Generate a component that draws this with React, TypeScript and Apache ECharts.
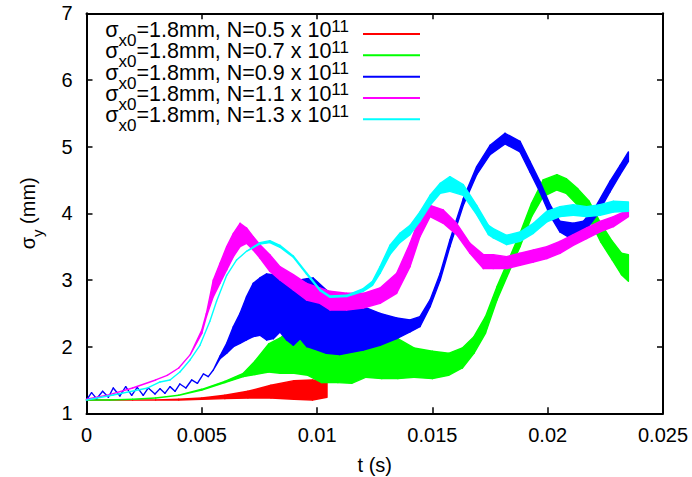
import React, { useEffect, useRef } from "react";
import * as echarts from "echarts";

// ---- axis ticks ----
const xTickLabels = ["0", "0.005", "0.01", "0.015", "0.02", "0.025"];
const yTickLabels = ["1", "2", "3", "4", "5", "6", "7"];

// ---- legend ----
const seriesColors = ["#ff0000", "#00ff00", "#0000ff", "#ff00ff", "#00ffff"];
const nValues = ["0.5", "0.7", "0.9", "1.1", "1.3"];
const seriesNames = nValues.map((n) => `σx0=1.8mm, N=${n} x 10^11`);

// ---- data: time (s), lower / upper envelope of sigma_y (mm) ----
const redT = [0, 0.001, 0.002, 0.003, 0.004, 0.005, 0.006, 0.007, 0.008, 0.009, 0.0098, 0.01043];
const redLo = [1.2, 1.2, 1.2, 1.2, 1.2, 1.21, 1.22, 1.23, 1.23, 1.21, 1.2, 1.24];
const redHi = [1.2, 1.2, 1.2, 1.2, 1.21, 1.23, 1.27, 1.33, 1.42, 1.49, 1.5, 1.48];

const greenT = [0, 0.001, 0.002, 0.003, 0.004, 0.005, 0.006, 0.0068, 0.0073, 0.0079, 0.0084, 0.009, 0.0096, 0.0102, 0.0109, 0.0115, 0.0121, 0.0128, 0.0135, 0.0142, 0.015, 0.0157, 0.0163, 0.0168, 0.0173, 0.0178, 0.0183, 0.0188, 0.0193, 0.0198, 0.0204, 0.0208, 0.0213, 0.0218, 0.0223, 0.0228, 0.0232, 0.0235];
const greenLo = [1.2, 1.2, 1.21, 1.23, 1.27, 1.35, 1.46, 1.55, 1.58, 1.62, 1.6, 1.6, 1.57, 1.46, 1.46, 1.45, 1.54, 1.52, 1.52, 1.54, 1.52, 1.57, 1.68, 1.9, 2.2, 2.7, 3.1, 3.5, 3.95, 4.25, 4.35, 4.3, 4.12, 3.92, 3.57, 3.3, 3.08, 2.98];
const greenHi = [1.2, 1.2, 1.21, 1.23, 1.27, 1.36, 1.48, 1.6, 1.78, 2.04, 2.13, 2.31, 2.24, 2.19, 2.09, 2.05, 2.09, 2.09, 2.12, 1.98, 1.93, 1.9, 1.98, 2.15, 2.45, 2.9, 3.3, 3.7, 4.15, 4.5, 4.58, 4.52, 4.37, 4.18, 3.85, 3.58, 3.4, 3.38];

const blueT = [0, 0.00022, 0.00044, 0.0007, 0.00095, 0.00116, 0.00145, 0.0017, 0.00196, 0.0022, 0.00246, 0.00268, 0.00297, 0.00319, 0.0034, 0.00362, 0.00384, 0.00405, 0.00431, 0.00456, 0.00481, 0.00507, 0.00528, 0.0055, 0.00579, 0.00608, 0.00637, 0.00666, 0.00694, 0.00723, 0.00752, 0.00781, 0.0081, 0.00839, 0.00868, 0.00897, 0.00926, 0.00955, 0.00983, 0.0104, 0.01098, 0.012, 0.01273, 0.01345, 0.01403, 0.01446, 0.0149, 0.01534, 0.01576, 0.01634, 0.01692, 0.0175, 0.01815, 0.0188, 0.01923, 0.01966, 0.0201, 0.02053, 0.02111, 0.02155, 0.02213, 0.0227, 0.02314, 0.0235];
const blueLo = [1.2, 1.31, 1.22, 1.33, 1.24, 1.38, 1.26, 1.4, 1.27, 1.39, 1.27, 1.38, 1.29, 1.37, 1.3, 1.4, 1.33, 1.44, 1.38, 1.5, 1.45, 1.59, 1.55, 1.65, 1.82, 1.9, 2.0, 2.05, 2.1, 2.15, 2.17, 2.1, 2.12, 2.22, 2.1, 2.02, 2.12, 2.0, 1.97, 1.9, 1.88, 1.95, 2.02, 2.12, 2.22, 2.3, 2.6, 3.0, 3.5, 4.12, 4.58, 4.88, 5.04, 4.92, 4.62, 4.32, 3.97, 3.72, 3.6, 3.7, 3.97, 4.32, 4.58, 4.78];
const blueHi = [1.2, 1.31, 1.22, 1.33, 1.24, 1.38, 1.26, 1.4, 1.27, 1.39, 1.27, 1.38, 1.29, 1.37, 1.3, 1.4, 1.33, 1.44, 1.38, 1.5, 1.45, 1.59, 1.55, 1.65, 1.86, 2.05, 2.3, 2.5, 2.75, 2.95, 3.03, 3.09, 3.08, 3.0, 2.95, 2.95, 3.0, 3.02, 3.03, 2.85, 2.7, 2.6, 2.5, 2.43, 2.4, 2.45, 2.7, 3.1, 3.6, 4.22, 4.7, 5.02, 5.2, 5.08, 4.78, 4.48, 4.13, 3.88, 3.85, 3.88, 4.13, 4.48, 4.72, 4.92];

const magentaT = [0, 0.001, 0.002, 0.003, 0.0035, 0.004, 0.0045, 0.005, 0.0052, 0.0055, 0.00579, 0.00608, 0.00637, 0.00666, 0.00694, 0.00723, 0.00752, 0.00795, 0.00839, 0.00897, 0.00954, 0.01012, 0.01056, 0.01128, 0.012, 0.01273, 0.01345, 0.01403, 0.01446, 0.0149, 0.01547, 0.01605, 0.01663, 0.01721, 0.01764, 0.01822, 0.0188, 0.01938, 0.01996, 0.02053, 0.02111, 0.02169, 0.02227, 0.02285, 0.0235];
const magentaLo = [1.21, 1.28, 1.38, 1.5, 1.57, 1.68, 1.88, 2.2, 2.45, 2.75, 2.95, 3.15, 3.35, 3.5, 3.55, 3.45, 3.33, 3.13, 3.0, 2.85, 2.7, 2.65, 2.55, 2.55, 2.58, 2.65, 2.8, 3.2, 3.65, 3.95, 3.85, 3.68, 3.4, 3.17, 3.17, 3.17, 3.22, 3.27, 3.32, 3.4, 3.52, 3.62, 3.72, 3.8, 3.95];
const magentaHi = [1.21, 1.28, 1.38, 1.5, 1.57, 1.68, 1.88, 2.25, 2.5, 3.0, 3.25, 3.5, 3.7, 3.85, 3.78, 3.65, 3.53, 3.38, 3.2, 3.08, 2.95, 2.88, 2.83, 2.8, 2.8, 2.88, 3.1, 3.55, 3.95, 4.12, 4.05, 3.85, 3.55, 3.38, 3.38, 3.35, 3.4, 3.45, 3.5, 3.58, 3.68, 3.78, 3.88, 3.95, 4.05];

const cyanT = [0, 0.00116, 0.00261, 0.00319, 0.00362, 0.00405, 0.00449, 0.00492, 0.00535, 0.00564, 0.00608, 0.00651, 0.00694, 0.00752, 0.00795, 0.00839, 0.00897, 0.00954, 0.01012, 0.01056, 0.01128, 0.012, 0.0124, 0.01273, 0.01316, 0.01359, 0.01403, 0.01446, 0.0149, 0.01534, 0.01576, 0.01634, 0.01692, 0.01743, 0.01764, 0.01822, 0.0188, 0.01938, 0.01996, 0.02053, 0.02111, 0.02169, 0.02227, 0.02285, 0.0235];
const cyanLo = [1.2, 1.275, 1.375, 1.47, 1.5, 1.62, 1.8, 2.02, 2.38, 2.68, 3.07, 3.3, 3.43, 3.54, 3.56, 3.49, 3.34, 3.09, 2.84, 2.74, 2.75, 2.83, 2.92, 3.1, 3.38, 3.56, 3.68, 3.88, 4.12, 4.3, 4.33, 4.27, 3.98, 3.68, 3.63, 3.53, 3.58, 3.7, 3.87, 3.95, 3.97, 3.95, 3.97, 4.02, 4.03];
const cyanHi = [1.2, 1.275, 1.375, 1.47, 1.5, 1.62, 1.8, 2.02, 2.38, 2.68, 3.07, 3.3, 3.43, 3.56, 3.59, 3.52, 3.36, 3.11, 2.86, 2.76, 2.77, 2.87, 2.98, 3.2, 3.52, 3.7, 3.82, 4.02, 4.27, 4.45, 4.55, 4.43, 4.12, 3.82, 3.77, 3.67, 3.72, 3.85, 4.03, 4.1, 4.13, 4.1, 4.13, 4.18, 4.17];

const FONT = "Liberation Sans, Arial, Helvetica, sans-serif";

const bands = [
  { t: redT, lo: redLo, hi: redHi },
  { t: greenT, lo: greenLo, hi: greenHi },
  { t: blueT, lo: blueLo, hi: blueHi },
  { t: magentaT, lo: magentaLo, hi: magentaHi },
  { t: cyanT, lo: cyanLo, hi: cyanHi },
];

// each data item is one segment: [t_i, lo_i, hi_i, t_i+1, lo_i+1, hi_i+1]
function buildSeries() {
  return bands.map((b, k) => {
    const color = seriesColors[k];
    const n = Math.min(b.t.length, b.lo.length, b.hi.length);
    const segs: number[][] = [];
    for (let i = 0; i < n - 1; i++) {
      segs.push([b.t[i], b.lo[i], b.hi[i], b.t[i + 1], b.lo[i + 1], b.hi[i + 1]]);
    }
    return {
      name: seriesNames[k],
      type: "custom",
      color,
      itemStyle: { color },
      silent: true,
      emphasis: { disabled: true },
      dimensions: ["t0", "lo0", "hi0", "t1", "lo1", "hi1"],
      encode: { x: [0, 3], y: [1, 2, 4, 5] },
      data: segs,
      renderItem: (_params: any, api: any) => {
        const lo0 = api.coord([api.value(0), api.value(1)]);
        const hi0 = api.coord([api.value(0), api.value(2)]);
        const lo1 = api.coord([api.value(3), api.value(4)]);
        const hi1 = api.coord([api.value(3), api.value(5)]);
        return {
          type: "polygon",
          shape: { points: [hi0, hi1, lo1, lo0] },
          style: { fill: color, stroke: color, lineWidth: 1.4, lineJoin: "round" },
          silent: true,
        };
      },
    };
  });
}

// key (legend box) drawn as text + sample line for each series
const legendRich = {
  m: { fontSize: 21.5, lineHeight: 21, verticalAlign: "middle", fontFamily: FONT, fill: "#000" },
  s: { fontSize: 17, lineHeight: 1, verticalAlign: "middle", padding: [21, 0, 0, 0], fontFamily: FONT, fill: "#000" },
  p: { fontSize: 17, lineHeight: 1, verticalAlign: "middle", padding: [0, 0, 8, 0], fontFamily: FONT, fill: "#000" },
};
function buildKey() {
  const els: any[] = [];
  nValues.forEach((n, i) => {
    const rowY = 34 + i * 21.33;
    els.push({
      type: "text",
      x: 349,
      y: rowY - 4,
      silent: true,
      style: {
        text: `{m|σ}{s|x0}{m|=1.8mm, N=${n} x 10}{p|11}`,
        rich: legendRich,
        align: "right",
        verticalAlign: "middle",
        fill: "#000",
        font: `21.5px ${FONT}`,
      },
    });
    els.push({
      type: "line",
      silent: true,
      shape: { x1: 363, y1: rowY, x2: 420, y2: rowY },
      style: { stroke: seriesColors[i], lineWidth: 2 },
    });
  });
  return els;
}

const axisLineStyle = { color: "#000", width: 2 };
const tickStyle = { color: "#000", width: 1.5 };

const option: any = {
  animation: false,
  backgroundColor: "#fff",
  grid: { left: 86.5, right: 29, top: 13.3, bottom: 63.7, outerBoundsMode: "none" },
  graphic: buildKey(),
  xAxis: [
    {
      type: "value",
      position: "bottom",
      min: 0,
      max: 0.025,
      interval: 0.005,
      name: "t (s)",
      nameLocation: "middle",
      nameGap: 42,
      nameTextStyle: { color: "#000", fontSize: 20, fontFamily: FONT },
      axisLine: { show: true, onZero: false, lineStyle: axisLineStyle },
      axisTick: { show: true, inside: true, length: 6, lineStyle: tickStyle },
      axisLabel: {
        color: "#000",
        fontSize: 20,
        fontFamily: FONT,
        margin: 12,
        formatter: (v: number) => xTickLabels[Math.round(v / 0.005)] ?? "",
      },
      splitLine: { show: false },
    },
    {
      type: "value",
      position: "top",
      min: 0,
      max: 0.025,
      interval: 0.005,
      axisLine: { show: true, onZero: false, lineStyle: axisLineStyle },
      axisTick: { show: true, inside: true, length: 6, lineStyle: tickStyle },
      axisLabel: { show: false },
      splitLine: { show: false },
    },
  ],
  yAxis: [
    {
      type: "value",
      position: "left",
      min: 1,
      max: 7,
      interval: 1,
      name: "{m|σ}{s|y}{m| (mm)}",
      nameLocation: "middle",
      nameRotate: 90,
      nameGap: 48,
      nameTextStyle: {
        color: "#000",
        fontFamily: FONT,
        rich: {
          m: { fontSize: 20, lineHeight: 21, verticalAlign: "middle", fontFamily: FONT, color: "#000" },
          s: { fontSize: 15, lineHeight: 1, verticalAlign: "middle", padding: [18, 0, 0, 0], fontFamily: FONT, color: "#000" },
        },
      },
      axisLine: { show: true, onZero: false, lineStyle: axisLineStyle },
      axisTick: { show: true, inside: true, length: 6, lineStyle: tickStyle },
      axisLabel: {
        color: "#000",
        fontSize: 20,
        fontFamily: FONT,
        margin: 14,
        formatter: (v: number) => yTickLabels[Math.round(v - 1)] ?? "",
      },
      splitLine: { show: false },
    },
    {
      type: "value",
      position: "right",
      min: 1,
      max: 7,
      interval: 1,
      axisLine: { show: true, onZero: false, lineStyle: axisLineStyle },
      axisTick: { show: true, inside: true, length: 6, lineStyle: tickStyle },
      axisLabel: { show: false },
      splitLine: { show: false },
    },
  ],
  series: buildSeries(),
};

export default function App() {
  const ref = useRef<HTMLDivElement>(null);
  useEffect(() => {
    if (!ref.current) return;
    const chart = echarts.init(ref.current, null, { renderer: "svg" });
    chart.setOption(option);
    return () => chart.dispose();
  }, []);
  return (
    <div
      ref={ref}
      style={{ position: "fixed", left: 0, top: 0, width: 692, height: 477, background: "#fff" }}
    />
  );
}
